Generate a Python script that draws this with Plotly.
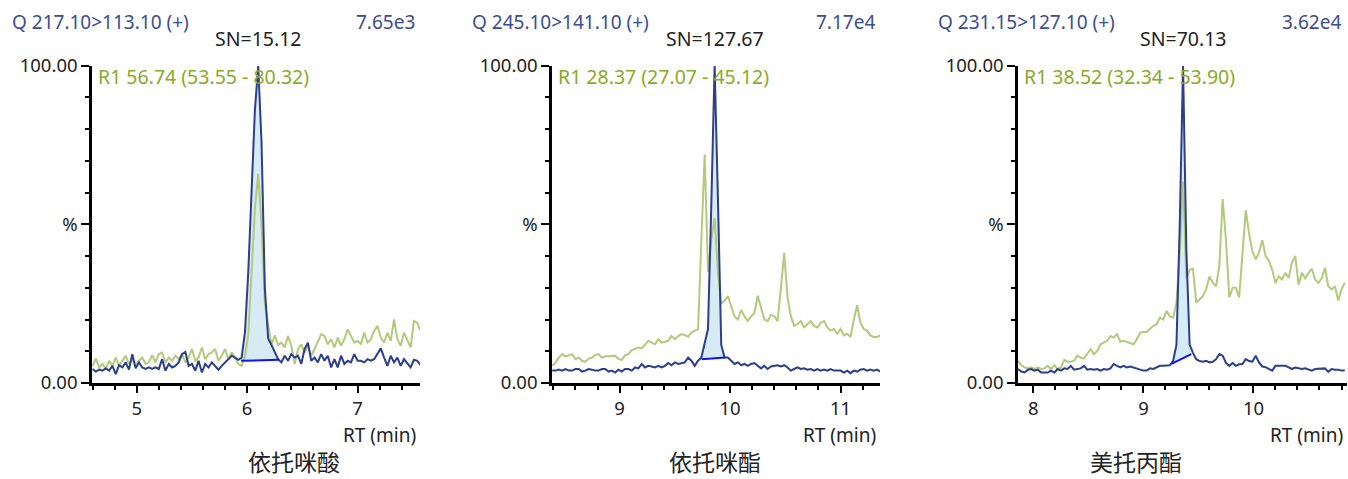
import plotly.graph_objects as go

# ---------------- data ----------------
RT_STEP = 0.03

# Panel 1 : 依托咪酸
P1_NAME = "依托咪酸"
P1_TRANSITION = "Q 217.10>113.10 (+)"
P1_MAXINT = "7.65e3"
P1_SN = "SN=15.12"
P1_RATIO = "R1 56.74 (53.55 - 80.32)"
P1_RT0 = 4.60
P1_XRANGE = [4.595, 7.565]
P1_XTICKS = [5, 6, 7]
P1_BLUE = [4.4, 3.6, 4.2, 3.9, 4.6, 3.9, 5.4, 2.8, 5.6, 4.9,
           6.5, 4.2, 9.1, 4.6, 6.5, 4.9, 4.4, 4.9, 4.4, 4.9,
           4.4, 7.5, 3.9, 6.0, 4.9, 5.4, 6.5, 9.1, 9.8, 5.4,
           6.0, 3.9, 7.0, 3.3, 6.0, 4.9, 6.5, 5.4, 4.2, 5.4,
           6.5, 7.5, 8.6, 8.0, 7.3,
           8, 16, 35, 60, 86, 100, 76, 30, 14, 12, 10, 7.5,
           6.5, 8.6, 7.0, 9.1, 8.0, 8.6, 6.0, 10.7, 12.7, 7.0,
           8.0, 6.5, 9.1, 7.0, 8.6, 4.9, 7.5, 4.9, 8.6, 6.0,
           7.0, 6.5, 9.1, 7.0, 7.0, 6.5, 7.5, 7.0, 7.5, 9.1,
           10.9, 8.0, 5.4, 8.6, 6.5, 8.0, 5.4, 7.5, 6.0, 4.9,
           7.3, 7.0, 5.6]
P1_GREEN = [5.4, 7.7, 4.9, 6.0, 4.4, 7.0, 5.4, 8.0, 5.4, 7.0,
            8.6, 6.0, 7.5, 5.4, 7.0, 8.0, 6.0, 6.5, 8.8, 6.5,
            9.1, 9.6, 6.5, 8.0, 7.0, 8.6, 7.5, 9.1, 6.5, 8.0,
            10.7, 7.0, 8.0, 11.2, 7.5, 9.1, 9.6, 10.7, 7.0, 8.6,
            10.7, 7.5, 9.6, 8.0, 6.0, 5.4, 8.6,
            15, 35, 55, 66, 50, 25, 18, 12, 15, 12,
            12.7, 11.2, 14.8, 11.7, 6.0, 10.7, 12.2, 9.6, 11.7, 8.6,
            10.7, 13.3, 15.4, 14.8, 12.2, 13.8, 11.2, 14.3, 11.7, 13.8,
            16.9, 14.8, 12.7, 13.3, 12.2, 15.9, 12.7, 13.8, 16.4, 18.0,
            14.3, 12.7, 15.9, 13.3, 20.0, 13.8, 11.7, 15.9, 13.8, 11.2,
            19.5, 19.0, 16.4]
P1_PEAK = [5.945, 7.0, 6.29, 7.3]   # baseline start RT, start %, end RT, end %

# Panel 2 : 依托咪酯
P2_NAME = "依托咪酯"
P2_TRANSITION = "Q 245.10>141.10 (+)"
P2_MAXINT = "7.17e4"
P2_SN = "SN=127.67"
P2_RATIO = "R1 28.37 (27.07 - 45.12)"
P2_RT0 = 8.39
P2_XRANGE = [8.388, 11.357]
P2_XTICKS = [9, 10, 11]
P2_BLUE = [3.9, 3.9, 4.2, 3.9, 4.4, 3.9, 3.9, 4.4, 4.4, 3.6,
           3.9, 4.4, 4.2, 3.9, 3.9, 4.4, 4.4, 3.6, 3.9, 3.3,
           4.2, 3.6, 4.4, 4.4, 3.9, 4.9, 4.6, 6.0, 4.9, 5.4,
           5.2, 4.9, 5.4, 4.9, 5.4, 6.3, 5.6, 6.5, 6.0, 6.3,
           6.5, 8.0, 7.0, 5.4, 7.0,
           8, 13, 17, 56, 100, 58, 12, 8,
           8, 7, 6, 6.5, 5.6, 6, 5.4, 6, 6.3, 5.4,
           4.6, 5.4, 4.4, 5.2, 5.4, 5.6, 5.2, 5.6, 4.9, 3.9,
           4.4, 4.9, 4.4, 4.6, 4.2, 4.4, 3.9, 4.4, 3.9, 4.2,
           3.9, 4.4, 3.9, 3.9, 3.9, 3.3, 3.9, 3.1, 3.9, 3.6,
           4.2, 4.4, 3.9, 4.2, 3.9, 4.2, 3.6]
P2_GREEN = [5.4, 6.5, 8.0, 9.1, 8.4, 8.8, 9.1, 7.5, 8.0, 7.0,
            6.7, 7.7, 8.0, 8.8, 9.1, 8.0, 8.4, 8.4, 8.6, 8.6,
            7.5, 7.3, 8.8, 9.1, 10.4, 10.7, 11.2, 10.9, 12.2, 13.3,
            12.7, 12.2, 13.8, 12.7, 13.0, 13.3, 14.8, 13.8, 14.8, 15.4,
            15.1, 14.6, 15.9, 16.4, 17.0,
            45, 72, 35, 45, 52, 35, 25, 26,
            27.4, 24, 21, 20, 23, 21, 19.5, 21, 22, 27.5,
            24, 20, 19.5, 21.5, 21, 19.5, 30, 41, 27, 21,
            18, 18.5, 19.5, 17.5, 18.5, 19.5, 18, 17.5, 19, 19.5,
            17.5, 16.5, 17, 15.5, 17, 15, 15.5, 14.5, 20, 24.5,
            19, 17, 16.5, 15, 14.5, 14.5, 15]
P2_PEAK = [9.742, 7.5, 9.955, 8.0]

# Panel 3 : 美托丙酯
P3_NAME = "美托丙酯"
P3_TRANSITION = "Q 231.15>127.10 (+)"
P3_MAXINT = "3.62e4"
P3_SN = "SN=70.13"
P3_RATIO = "R1 38.52 (32.34 - 53.90)"
P3_RT0 = 7.86
P3_XRANGE = [7.86, 10.85]
P3_XTICKS = [8, 9, 10]
P3_BLUE = [4.4, 3.6, 3.3, 4.2, 4.4, 3.9, 4.2, 3.3, 3.3, 3.3,
           3.9, 3.3, 4.4, 3.9, 4.6, 4.4, 5.4, 4.2, 4.4, 4.6,
           5.4, 4.2, 4.4, 4.2, 4.4, 3.9, 4.4, 4.2, 4.6, 6.0,
           5.4, 4.9, 5.4, 4.9, 5.2, 4.9, 4.4, 4.2, 3.9, 3.9,
           4.6, 4.4, 4.9, 5.4, 5.4, 5.6, 5.6,
           7, 12, 50, 100, 42, 12, 9.5,
           7.5, 6.9, 6.7, 7.0, 6.5, 6.7, 7.5, 9.1, 8.6, 6.3,
           5.4, 6.3, 5.4, 5.9, 6.0, 7.5, 6.9, 6.7, 8.6, 6.5,
           5.2, 5.0, 4.4, 3.9, 5.4, 5.4, 5.4, 5.4, 4.9, 4.4,
           4.9, 4.6, 4.4, 4.6, 4.2, 3.9, 4.4, 4.4, 4.4, 4.6,
           3.5, 4.4, 4.2, 4.2, 3.9, 3.9]
P3_GREEN = [7.0, 5.6, 4.9, 4.6, 4.9, 4.4, 4.9, 4.4, 4.6, 5.4,
            4.4, 5.6, 4.4, 4.9, 7.3, 6.7, 6.7, 7.0, 8.6, 8.0,
            7.7, 9.1, 10.7, 9.1, 10.1, 12.2, 12.7, 13.3, 14.8, 14.3,
            15.4, 13.0, 13.3, 13.0, 12.5, 12.2, 13.8, 15.9, 16.1, 16.1,
            17.1, 18.0, 18.5, 20.6, 20.0, 22.7, 21.0, 20.6, 25.3, 41,
            63.4, 33, 35.7, 36, 25.3, 26.3, 27.4, 29.5, 33.6, 31.6,
            30.5, 37, 58, 45, 27, 30, 30, 27, 42, 54.5,
            47, 41.5, 39, 41, 45, 40, 38.5, 35.7, 31.5, 33.6,
            32.6, 34.7, 33.1, 38, 40, 31, 34.7, 33, 34.7, 36,
            32.6, 31.5, 33, 36.3, 30.5, 29.5, 30.5, 26, 29.5, 31.6]
P3_PEAK = [9.254, 6.0, 9.435, 9.1]

# ---------------- styling / layout ----------------
W, H = 1348, 479
BLUE = "#2c3e8c"
GREEN = "#b4c97c"
FILL = "rgba(200,228,240,0.75)"
BASE = "#1010ff"
MARK = "#14245a"
TITLE_C = "#3b4c96"
RATIO_C = "#8aaa28"
TXT = "#222222"
FONT = "Noto Sans, Open Sans, sans-serif"
CJK = "Noto Sans CJK SC, Noto Sans, sans-serif"

# vertical placement calibrated against the rendered page
V_OFF, V_SCALE = 13.0, 0.953


def fx(px):
    return px / W


def fy(py):
    return 1 - ((py - V_OFF) / V_SCALE) / H


Y_DOMAIN = [fy(384), fy(65)]

panels = [
    dict(name=P1_NAME, tr=P1_TRANSITION, mx=P1_MAXINT, sn=P1_SN, ratio=P1_RATIO,
         rt0=P1_RT0, xr=P1_XRANGE, xt=P1_XTICKS, blue=P1_BLUE, green=P1_GREEN, peak=P1_PEAK,
         plot_px=(92, 420), left_px=10, maxr_px=417, ratio_px=96, rt_px=418, name_px=294),
    dict(name=P2_NAME, tr=P2_TRANSITION, mx=P2_MAXINT, sn=P2_SN, ratio=P2_RATIO,
         rt0=P2_RT0, xr=P2_XRANGE, xt=P2_XTICKS, blue=P2_BLUE, green=P2_GREEN, peak=P2_PEAK,
         plot_px=(552, 880), left_px=470, maxr_px=877, ratio_px=556, rt_px=878, name_px=715),
    dict(name=P3_NAME, tr=P3_TRANSITION, mx=P3_MAXINT, sn=P3_SN, ratio=P3_RATIO,
         rt0=P3_RT0, xr=P3_XRANGE, xt=P3_XTICKS, blue=P3_BLUE, green=P3_GREEN, peak=P3_PEAK,
         plot_px=(1018, 1347), left_px=936, maxr_px=1343, ratio_px=1022, rt_px=1345, name_px=1136),
]

fig = go.Figure()
annotations = []

for k, p in enumerate(panels, start=1):
    xa = "x" if k == 1 else f"x{k}"
    ya = "y" if k == 1 else f"y{k}"
    rt = [round(p["rt0"] + i * RT_STEP, 3) for i in range(len(p["blue"]))]
    s_rt, s_y, e_rt, e_y = p["peak"]

    # integrated peak area
    inside = [(t, v) for t, v in zip(rt, p["blue"]) if s_rt < t < e_rt]
    fx_pts = [s_rt] + [t for t, _ in inside] + [e_rt, s_rt]
    fy_pts = [s_y] + [v for _, v in inside] + [e_y, s_y]
    fig.add_trace(go.Scatter(x=fx_pts, y=fy_pts, mode="lines", fill="toself",
                             fillcolor=FILL, line=dict(width=0),
                             xaxis=xa, yaxis=ya, hoverinfo="skip", showlegend=False))
    # qualifier trace (green)
    fig.add_trace(go.Scatter(x=rt, y=p["green"], mode="lines",
                             line=dict(color=GREEN, width=2),
                             xaxis=xa, yaxis=ya, showlegend=False))
    # quantifier trace (blue)
    fig.add_trace(go.Scatter(x=rt, y=p["blue"], mode="lines",
                             line=dict(color=BLUE, width=2),
                             xaxis=xa, yaxis=ya, showlegend=False))
    # integration baseline
    fig.add_trace(go.Scatter(x=[s_rt, e_rt], y=[s_y, e_y], mode="lines",
                             line=dict(color=BASE, width=2),
                             xaxis=xa, yaxis=ya, showlegend=False))
    # apex marker
    imax = max(range(len(p["blue"])), key=lambda i: p["blue"][i])
    fig.add_trace(go.Scatter(x=[rt[imax]], y=[102.2], mode="markers",
                             marker=dict(symbol="triangle-down", size=10, color=MARK),
                             cliponaxis=False, xaxis=xa, yaxis=ya, showlegend=False))

    x0, x1 = p["plot_px"]
    xdom = [fx(x0), fx(x1)]
    fig.layout[f"xaxis{'' if k == 1 else k}"] = dict(
        domain=xdom, range=p["xr"], anchor=ya,
        showline=True, linecolor="black", linewidth=2.5, mirror=False,
        showgrid=False, zeroline=False,
        ticks="outside", ticklen=7, tickwidth=1.5, tickcolor="black",
        tickvals=p["xt"], ticktext=[str(v) for v in p["xt"]],
        tickfont=dict(family=FONT, size=18.5, color=TXT),
        minor=dict(ticks="outside", ticklen=4, tickwidth=1.5, tickcolor="black",
                   dtick=0.2, tick0=0, showgrid=False),
    )
    fig.layout[f"yaxis{'' if k == 1 else k}"] = dict(
        domain=Y_DOMAIN, range=[0, 100], anchor=xa,
        showline=True, linecolor="black", linewidth=2.5,
        showgrid=False, zeroline=False,
        ticks="outside", ticklen=8, tickwidth=1.5, tickcolor="black",
        tickvals=[0, 50, 100], ticktext=["0.00", "%", "100.00"],
        tickfont=dict(family=FONT, size=18.5, color=TXT),
        minor=dict(ticks="outside", ticklen=4, tickwidth=1.5, tickcolor="black",
                   dtick=10, tick0=0, showgrid=False),
    )

    annotations += [
        dict(text=p["tr"], x=fx(p["left_px"]), y=fy(21), xref="paper", yref="paper",
             xanchor="left", yanchor="middle", showarrow=False,
             font=dict(family=FONT, size=19, color=TITLE_C)),
        dict(text=p["mx"], x=fx(p["maxr_px"]), y=fy(21), xref="paper", yref="paper",
             xanchor="right", yanchor="middle", showarrow=False,
             font=dict(family=FONT, size=19, color=TITLE_C)),
        dict(text=p["sn"], x=rt[imax], y=fy(38), xref=xa, yref="paper",
             xanchor="center", yanchor="middle", showarrow=False,
             font=dict(family=FONT, size=19.5, color=TXT)),
        dict(text=p["ratio"], x=fx(p["ratio_px"]), y=fy(76), xref="paper", yref="paper",
             xanchor="left", yanchor="middle", showarrow=False,
             font=dict(family=FONT, size=19.5, color=RATIO_C)),
        dict(text="RT (min)", x=fx(p["rt_px"]), y=fy(436), xref="paper", yref="paper",
             xanchor="right", yanchor="middle", showarrow=False,
             font=dict(family=FONT, size=19, color=TXT)),
        dict(text=p["name"], x=fx(p["name_px"]), y=fy(462), xref="paper", yref="paper",
             xanchor="center", yanchor="middle", showarrow=False,
             font=dict(family=CJK, size=23, color=TXT)),
    ]

fig.update_layout(
    width=W, height=H,
    margin=dict(l=0, r=0, t=0, b=0),
    paper_bgcolor="white", plot_bgcolor="white",
    annotations=annotations,
    showlegend=False,
)

fig.write_html(
    "out.html",
    config={"displayModeBar": False},
    post_script=("document.body.style.margin='0';"
                 "document.body.style.padding='0';"
                 "document.documentElement.style.overflow='hidden';"
                 "document.body.style.overflow='hidden';"),
)
